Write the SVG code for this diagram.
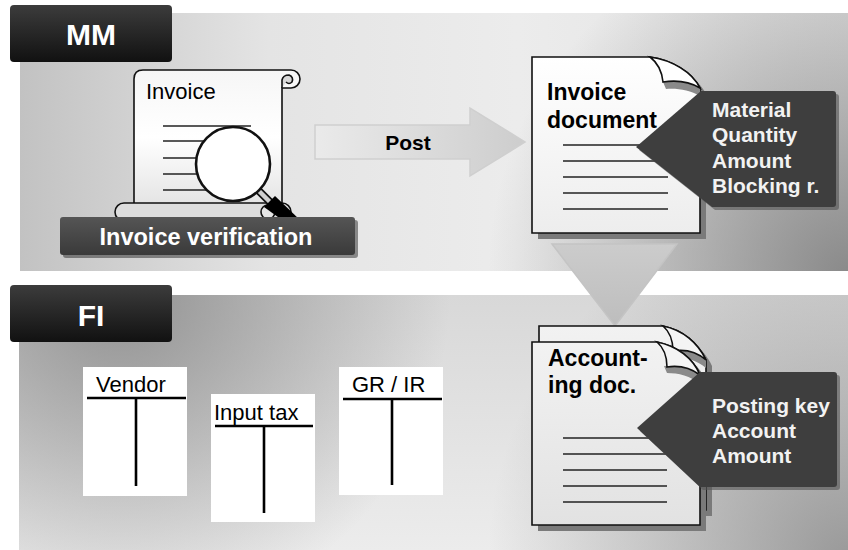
<svg xmlns="http://www.w3.org/2000/svg" width="848" height="550" viewBox="0 0 848 550">
  <defs>
    <style>
      text { font-family: "Liberation Sans", Arial, sans-serif; }
      .tab-label { font-size: 30px; font-weight: bold; fill: #ffffff; }
      .doc-title { font-size: 23px; font-weight: bold; fill: #000000; }
      .callout-text { font-size: 21px; font-weight: bold; fill: #f2f2f2; }
      .plain { font-size: 22px; fill: #000000; }
      .rule { stroke: #222222; stroke-width: 1.6; }
      .t-line { stroke: #000000; stroke-width: 2.6; }
      .outline { stroke: #111111; stroke-width: 1.6; }
      .shadow { fill: #7a7a7a; }
      .callout { fill: #3e3e3e; }
    </style>
    <linearGradient id="tabFill" x1="0" y1="0" x2="0" y2="1">
      <stop offset="0" stop-color="#3c3c3c"/>
      <stop offset="1" stop-color="#111111"/>
    </linearGradient>
    <linearGradient id="barFill" x1="0" y1="0" x2="0" y2="1">
      <stop offset="0" stop-color="#555555"/>
      <stop offset="1" stop-color="#3a3a3a"/>
    </linearGradient>
    <linearGradient id="mmBase" x1="0" y1="0" x2="1" y2="0">
      <stop offset="0" stop-color="#c2c2c2"/>
      <stop offset="0.3" stop-color="#e4e4e4"/>
      <stop offset="0.6" stop-color="#ececec"/>
      <stop offset="1" stop-color="#e0e0e0"/>
    </linearGradient>
    <radialGradient id="mmDark" gradientUnits="userSpaceOnUse" cx="848" cy="275" r="360">
      <stop offset="0" stop-color="#808080" stop-opacity="0.9"/>
      <stop offset="1" stop-color="#808080" stop-opacity="0"/>
    </radialGradient>
    <linearGradient id="fiBase" x1="0" y1="0" x2="0" y2="1">
      <stop offset="0" stop-color="#d8d8d8"/>
      <stop offset="1" stop-color="#ececec"/>
    </linearGradient>
    <radialGradient id="fiDarkTL" gradientUnits="userSpaceOnUse" cx="120" cy="295" r="330">
      <stop offset="0" stop-color="#8a8a8a" stop-opacity="0.9"/>
      <stop offset="1" stop-color="#8a8a8a" stop-opacity="0"/>
    </radialGradient>
    <radialGradient id="fiDarkBR" gradientUnits="userSpaceOnUse" cx="848" cy="560" r="360">
      <stop offset="0" stop-color="#8a8a8a" stop-opacity="0.85"/>
      <stop offset="1" stop-color="#8a8a8a" stop-opacity="0"/>
    </radialGradient>
    <linearGradient id="pageFill" x1="0" y1="0" x2="0" y2="1">
      <stop offset="0" stop-color="#ffffff"/>
      <stop offset="1" stop-color="#ededed"/>
    </linearGradient>
    <linearGradient id="accPageFill" x1="0" y1="0" x2="0" y2="1">
      <stop offset="0" stop-color="#f2f2f2"/>
      <stop offset="1" stop-color="#e2e2e2"/>
    </linearGradient>
    <linearGradient id="scrollFill" x1="0" y1="0" x2="0" y2="1">
      <stop offset="0" stop-color="#f6f6f6"/>
      <stop offset="0.5" stop-color="#ffffff"/>
      <stop offset="1" stop-color="#e4e4e4"/>
    </linearGradient>
    <linearGradient id="arrowFill" x1="0" y1="0" x2="1" y2="0">
      <stop offset="0" stop-color="#eaeaea"/>
      <stop offset="1" stop-color="#cdcdcd"/>
    </linearGradient>
    <linearGradient id="downFill" x1="0" y1="0" x2="0" y2="1">
      <stop offset="0" stop-color="#cccccc"/>
      <stop offset="1" stop-color="#bdbdbd"/>
    </linearGradient>
  </defs>

  <rect x="0" y="0" width="848" height="550" fill="#ffffff"/>

  <!-- MM panel -->
  <g id="panel-mm">
    <rect x="20" y="13" width="828" height="258" fill="url(#mmBase)"/>
    <rect x="20" y="13" width="828" height="258" fill="url(#mmDark)"/>
  </g>

  <!-- FI panel -->
  <g id="panel-fi">
    <rect x="19" y="295" width="829" height="255" fill="url(#fiBase)"/>
    <rect x="19" y="295" width="829" height="255" fill="url(#fiDarkTL)"/>
    <rect x="19" y="295" width="829" height="255" fill="url(#fiDarkBR)"/>
  </g>

  <g id="tab-mm">
    <rect x="10" y="5" width="162" height="57" rx="4" fill="url(#tabFill)"/>
    <text class="tab-label" x="91" y="45" text-anchor="middle">MM</text>
  </g>

  <g id="tab-fi">
    <rect x="10" y="285" width="162" height="57" rx="4" fill="url(#tabFill)"/>
    <text class="tab-label" x="91" y="326" text-anchor="middle">FI</text>
  </g>

  <!-- Connectors: post arrow and transfer to FI -->
  <g id="connectors">
    <path d="M315,125 H470 V108 L525,142 L470,176 V159 H315 Z" fill="url(#arrowFill)" stroke="#cfcfcf" stroke-width="1.5"/>
    <text class="plain" x="408" y="150" text-anchor="middle" font-weight="bold" style="font-size:21px">Post</text>
    <path d="M552,244 H677 L615,326 Z" fill="url(#downFill)" stroke="#c4c4c4" stroke-width="1.5"/>
  </g>

  <!-- Invoice scroll with magnifier -->
  <g id="node-invoice">
    <path d="M134,205 V79 Q134,70 143,70 H291 A9,9 0 0 1 291,88 H282 V205 Z" fill="url(#scrollFill)" class="outline"/>
    <path d="M282,88 V80 Q283,75 289,75 Q294,77 292,82 Q289,85 286,82" fill="#d8d8d8" class="outline" stroke-width="1.3"/>
    <text class="plain" x="146" y="99">Invoice</text>
    <line class="rule" x1="163" y1="126" x2="251" y2="126"/>
    <line class="rule" x1="163" y1="141" x2="230" y2="141"/>
    <line class="rule" x1="163" y1="158" x2="230" y2="158"/>
    <line class="rule" x1="163" y1="174" x2="230" y2="174"/>
    <line class="rule" x1="163" y1="190" x2="230" y2="190"/>
    <rect x="115" y="203" width="176" height="18" rx="9" fill="#dddddd" class="outline"/>
    <circle cx="268" cy="212" r="7" fill="#e6e6e6" class="outline" stroke-width="1.3"/>
    <line x1="257" y1="189" x2="270" y2="202" stroke="#111111" stroke-width="8" stroke-linecap="round"/>
    <line x1="257" y1="189" x2="270" y2="202" stroke="#cfcfcf" stroke-width="4.5" stroke-linecap="round"/>
    <path d="M264,207 L275,196 L300,220 L289,225 Z" fill="#000000"/>
    <circle cx="233" cy="164" r="37" fill="#ffffff" stroke="#111111" stroke-width="2.6"/>
  </g>

  <g id="node-invoice-verification">
    <rect x="63" y="220" width="295" height="38" rx="3" fill="#2a2a2a" opacity="0.5"/>
    <rect x="60" y="217" width="295" height="38" rx="3" fill="url(#barFill)"/>
    <text x="206" y="245" text-anchor="middle" fill="#ffffff" font-weight="bold" style="font-size:23.5px">Invoice verification</text>
  </g>

  <!-- Invoice document -->
  <g id="node-invoice-document">
    <path class="shadow" d="M538,63 H656 C678,66 698,78 706,94 V239 H538 Z"/>
    <path d="M532,57 H650 C672,60 692,72 700,88 V233 H532 Z" fill="url(#pageFill)" class="outline"/>
    <path d="M663,82 C676,80 690,82 700,88 L700,96 C690,90 677,88 666,89 Z" fill="#8a8a8a"/>
    <path d="M650,57 C658,63 662,72 663,82 C676,80 690,82 700,88 C692,72 672,60 650,57 Z" fill="#ffffff" class="outline"/>
    <text class="doc-title" x="547" y="100">Invoice</text>
    <text class="doc-title" x="547" y="128">document</text>
    <line class="rule" x1="563" y1="145" x2="668" y2="145"/>
    <line class="rule" x1="563" y1="161" x2="668" y2="161"/>
    <line class="rule" x1="563" y1="177" x2="668" y2="177"/>
    <line class="rule" x1="563" y1="193" x2="668" y2="193"/>
    <line class="rule" x1="563" y1="209" x2="668" y2="209"/>
  </g>

  <g id="callout-invoice">
    <path d="M639,150 L704,94 H836 Q839,94 839,97 V207 Q839,210 836,210 H715 Z" fill="#555555" opacity="0.6"/>
    <path class="callout" d="M636,147 L701,91 H833 Q836,91 836,94 V204 Q836,207 833,207 H712 Z"/>
    <text class="callout-text" x="712" y="117">Material</text>
    <text class="callout-text" x="712" y="142">Quantity</text>
    <text class="callout-text" x="712" y="168">Amount</text>
    <text class="callout-text" x="712" y="193">Blocking r.</text>
  </g>

  <!-- Accounting document -->
  <g id="node-accounting-doc">
    <path class="shadow" d="M545,332 H669 C689,336 704,349 712,366 V516 H545 Z"/>
    <path d="M539,326 H663 C683,330 698,343 706,360 V510 H539 Z" fill="url(#accPageFill)" class="outline"/>
    <path d="M670,350 C684,348 698,352 706,360 L706,368 C697,360 684,357 673,357 Z" fill="#8a8a8a"/>
    <path d="M663,326 C670,332 673,342 673,351 C686,349 698,353 706,360 C698,343 683,330 663,326 Z" fill="#f4f4f4" class="outline"/>
    <path class="shadow" d="M538,348 H663 C683,352 699,364 706,381 V531 H538 Z"/>
    <path d="M532,342 H657 C677,346 693,358 700,375 V525 H532 Z" fill="url(#accPageFill)" class="outline"/>
    <path d="M664,366 C678,364 692,368 700,375 L700,384 C691,376 678,373 667,373 Z" fill="#8a8a8a"/>
    <path d="M657,342 C664,348 667,358 667,367 C680,365 692,369 700,375 C693,358 677,346 657,342 Z" fill="#f4f4f4" class="outline"/>
    <text class="doc-title" x="548" y="366">Account-</text>
    <text class="doc-title" x="548" y="393">ing doc.</text>
    <line class="rule" x1="563" y1="438" x2="667" y2="438"/>
    <line class="rule" x1="563" y1="454" x2="667" y2="454"/>
    <line class="rule" x1="563" y1="470" x2="667" y2="470"/>
    <line class="rule" x1="563" y1="486" x2="667" y2="486"/>
    <line class="rule" x1="563" y1="502" x2="667" y2="502"/>
  </g>

  <g id="callout-accounting">
    <path d="M640,431 L703,375 H837 Q840,375 840,378 V487 Q840,490 837,490 H703 Z" fill="#555555" opacity="0.6"/>
    <path class="callout" d="M637,428 L700,372 H834 Q837,372 837,375 V484 Q837,487 834,487 H700 Z"/>
    <text class="callout-text" x="712" y="413">Posting key</text>
    <text class="callout-text" x="712" y="438">Account</text>
    <text class="callout-text" x="712" y="463">Amount</text>
  </g>

  <!-- T-accounts -->
  <g id="t-vendor">
    <rect x="83" y="367" width="104" height="129" fill="#ffffff"/>
    <text class="plain" x="96" y="392">Vendor</text>
    <line class="t-line" x1="87" y1="398" x2="186" y2="398"/>
    <line class="t-line" x1="136" y1="398" x2="136" y2="486"/>
  </g>

  <g id="t-input-tax">
    <rect x="211" y="394" width="104" height="128" fill="#ffffff"/>
    <text class="plain" x="214" y="420">Input tax</text>
    <line class="t-line" x1="215" y1="426" x2="313" y2="426"/>
    <line class="t-line" x1="264" y1="426" x2="264" y2="513"/>
  </g>

  <g id="t-grir">
    <rect x="339" y="367" width="104" height="128" fill="#ffffff"/>
    <text class="plain" x="352" y="392">GR / IR</text>
    <line class="t-line" x1="343" y1="399" x2="442" y2="399"/>
    <line class="t-line" x1="392" y1="399" x2="392" y2="485"/>
  </g>
</svg>
